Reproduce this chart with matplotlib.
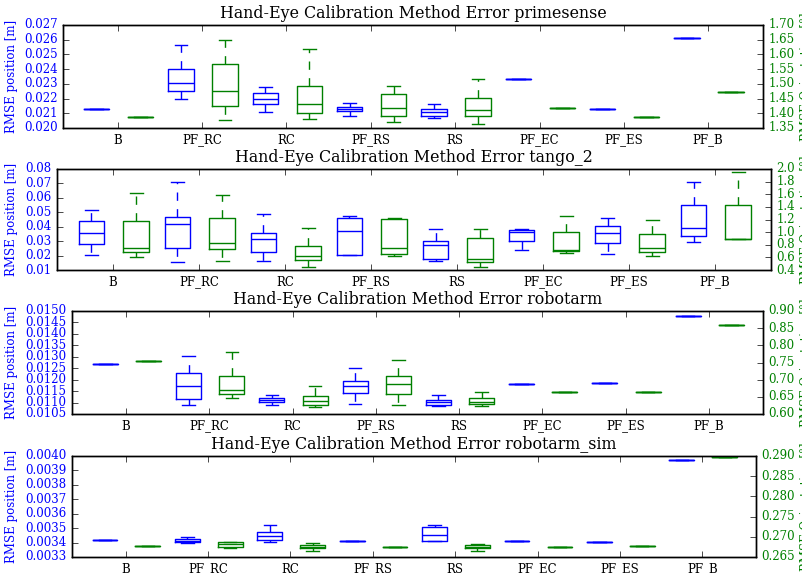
import matplotlib
matplotlib.use('Agg')
import matplotlib.pyplot as plt
from matplotlib.ticker import FormatStrFormatter, MultipleLocator
from matplotlib.transforms import blended_transform_factory

plt.style.use('classic')
plt.rcParams['font.family'] = ['DejaVu Serif']
plt.rcParams['figure.facecolor'] = 'white'
plt.rcParams['savefig.facecolor'] = 'white'

methods = ['B', 'PF_RC', 'RC', 'PF_RS', 'RS', 'PF_EC', 'PF_ES', 'PF_B']
datasets = ['primesense', 'tango_2', 'robotarm', 'robotarm_sim']

# each entry: [low whisker, q1, median, q3, high whisker]
primesense_pos = [
    [0.02127, 0.02127, 0.02127, 0.02127, 0.02127],
    [0.02199, 0.02249, 0.02307, 0.02402, 0.02565],
    [0.02106, 0.02165, 0.02197, 0.02235, 0.02278],
    [0.02081, 0.02113, 0.02129, 0.02142, 0.02167],
    [0.02070, 0.02084, 0.02106, 0.02129, 0.02160],
    [0.02334, 0.02334, 0.02334, 0.02334, 0.02334],
    [0.02127, 0.02127, 0.02127, 0.02127, 0.02127],
    [0.02614, 0.02614, 0.02614, 0.02614, 0.02614],
]
primesense_rot = [
    [1.387, 1.387, 1.387, 1.387, 1.387],
    [1.377, 1.426, 1.475, 1.566, 1.650],
    [1.381, 1.401, 1.433, 1.493, 1.620],
    [1.372, 1.390, 1.417, 1.465, 1.494],
    [1.363, 1.392, 1.411, 1.453, 1.515],
    [1.417, 1.417, 1.417, 1.417, 1.417],
    [1.387, 1.387, 1.387, 1.387, 1.387],
    [1.473, 1.473, 1.473, 1.473, 1.473],
]
tango_pos = [
    [0.0206, 0.0282, 0.0357, 0.0437, 0.0517],
    [0.0154, 0.0251, 0.0418, 0.0470, 0.0708],
    [0.0164, 0.0225, 0.0312, 0.0357, 0.0489],
    [0.0204, 0.0204, 0.0371, 0.0463, 0.0475],
    [0.0164, 0.0178, 0.0272, 0.0300, 0.0383],
    [0.0239, 0.0300, 0.0366, 0.0376, 0.0383],
    [0.0211, 0.0284, 0.0357, 0.0406, 0.0461],
    [0.0291, 0.0336, 0.0390, 0.0553, 0.0713],
]
tango_rot = [
    [0.610, 0.680, 0.750, 1.181, 1.623],
    [0.535, 0.734, 0.831, 1.230, 1.596],
    [0.454, 0.551, 0.626, 0.788, 1.068],
    [0.615, 0.659, 0.756, 1.203, 1.224],
    [0.449, 0.519, 0.570, 0.912, 1.052],
    [0.664, 0.696, 0.723, 1.003, 1.262],
    [0.615, 0.680, 0.750, 0.976, 1.197],
    [0.893, 0.893, 0.898, 1.429, 1.946],
]
robotarm_pos = [
    [0.012685, 0.012685, 0.012685, 0.012685, 0.012685],
    [0.01089, 0.01114, 0.01173, 0.01227, 0.01302],
    [0.01088, 0.01101, 0.01109, 0.01118, 0.01135],
    [0.01095, 0.01141, 0.01174, 0.01193, 0.01251],
    [0.01086, 0.01090, 0.01102, 0.01111, 0.01134],
    [0.01182, 0.01182, 0.01182, 0.01182, 0.01182],
    [0.01185, 0.01185, 0.01185, 0.01185, 0.01185],
    [0.01478, 0.01478, 0.01478, 0.01478, 0.01478],
]
robotarm_rot = [
    [0.753, 0.753, 0.753, 0.753, 0.753],
    [0.647, 0.659, 0.669, 0.711, 0.781],
    [0.621, 0.626, 0.638, 0.651, 0.682],
    [0.626, 0.658, 0.686, 0.710, 0.758],
    [0.624, 0.629, 0.636, 0.648, 0.665],
    [0.663, 0.663, 0.663, 0.663, 0.663],
    [0.663, 0.663, 0.663, 0.663, 0.663],
    [0.860, 0.860, 0.860, 0.860, 0.860],
]
sim_pos = [
    [0.003418, 0.003418, 0.003418, 0.003418, 0.003418],
    [0.003399, 0.003404, 0.003413, 0.003422, 0.003436],
    [0.003404, 0.003416, 0.003443, 0.003471, 0.003524],
    [0.003411, 0.003411, 0.003411, 0.003411, 0.003411],
    [0.003409, 0.003409, 0.003450, 0.003508, 0.003524],
    [0.003411, 0.003411, 0.003411, 0.003411, 0.003411],
    [0.003406, 0.003406, 0.003406, 0.003406, 0.003406],
    [0.003972, 0.003972, 0.003972, 0.003972, 0.003972],
]
sim_rot = [
    [0.26765, 0.26765, 0.26765, 0.26765, 0.26765],
    [0.26732, 0.26757, 0.26810, 0.26864, 0.26864],
    [0.26657, 0.26715, 0.26757, 0.26806, 0.26840],
    [0.26740, 0.26740, 0.26740, 0.26740, 0.26740],
    [0.26649, 0.26723, 0.26757, 0.26798, 0.26823],
    [0.26740, 0.26740, 0.26740, 0.26740, 0.26740],
    [0.26765, 0.26765, 0.26765, 0.26765, 0.26765],
    [0.28970, 0.28970, 0.28970, 0.28970, 0.28970],
]

pos_data = [primesense_pos, tango_pos, robotarm_pos, sim_pos]
rot_data = [primesense_rot, tango_rot, robotarm_rot, sim_rot]
pos_lims = [(0.020, 0.027), (0.01, 0.08), (0.0105, 0.0150), (0.0033, 0.0040)]
pos_steps = [0.001, 0.01, 0.0005, 0.0001]
pos_fmt = ['%.3f', '%.2f', '%.4f', '%.4f']
rot_lims = [(1.35, 1.70), (0.4, 2.0), (0.60, 0.90), (0.265, 0.290)]
rot_steps = [0.05, 0.2, 0.05, 0.005]
rot_fmt = ['%.2f', '%.1f', '%.2f', '%.3f']

# axes boxes in pixels: left, right, top, bottom
boxes_px = [(63, 763, 25, 128), (57, 771, 169, 270), (72, 763, 311, 414), (72, 756, 456, 557)]

W, H = 802, 574
fig = plt.figure(figsize=(W / 100, H / 100), dpi=100)

BLUE = (0, 0, 1)
GREEN = (0, 0.5, 0)
FS = 8.5


def stats_from(rows):
    out = []
    for r in rows:
        out.append(dict(whislo=r[0], q1=r[1], med=r[2], q3=r[3], whishi=r[4], fliers=[]))
    return out


def draw(ax, rows, positions, color):
    ax.bxp(stats_from(rows), positions=positions, widths=0.3, showfliers=False,
           boxprops=dict(color=color, linewidth=1.0, linestyle='-'),
           whiskerprops=dict(color=color, linewidth=1.0, linestyle='--'),
           capprops=dict(color=color, linewidth=1.0, linestyle='-'),
           medianprops=dict(color=color, linewidth=1.0, linestyle='-'),
           manage_ticks=False)


for i in range(4):
    l, r, t, b = boxes_px[i]
    ax = fig.add_axes([l / W, 1 - b / H, (r - l) / W, (b - t) / H])
    ax2 = ax.twinx()
    x = list(range(1, len(methods) + 1))
    draw(ax, pos_data[i], [v - 0.25 for v in x], BLUE)
    draw(ax2, rot_data[i], [v + 0.27 for v in x], GREEN)
    ax.set_xlim(0.35, 8.65)
    ax.set_xticks(x)
    ax.set_xticklabels(methods, fontsize=FS)
    ax.set_ylim(*pos_lims[i])
    ax.yaxis.set_major_locator(MultipleLocator(pos_steps[i]))
    ax.yaxis.set_major_formatter(FormatStrFormatter(pos_fmt[i]))
    ax2.set_ylim(*rot_lims[i])
    ax2.yaxis.set_major_locator(MultipleLocator(rot_steps[i]))
    ax2.yaxis.set_major_formatter(FormatStrFormatter(rot_fmt[i]))
    ax.tick_params(axis='y', labelcolor=BLUE, labelsize=FS)
    ax2.tick_params(axis='y', labelcolor=GREEN, labelsize=FS)
    ax.set_ylabel('RMSE position [m]', color=BLUE, fontsize=FS)
    ax2.set_ylabel('RMSE Orientation [°]', color=GREEN, fontsize=FS)
    ax.yaxis.set_label_coords(18 / W, 0.5, transform=blended_transform_factory(fig.transFigure, ax.transAxes))
    ax2.yaxis.set_label_coords(799.5 / W, 0.5, transform=blended_transform_factory(fig.transFigure, ax2.transAxes))
    ax.set_title('Hand-Eye Calibration Method Error ' + datasets[i], fontsize=11.4)

fig.savefig('out.png', dpi=100)
